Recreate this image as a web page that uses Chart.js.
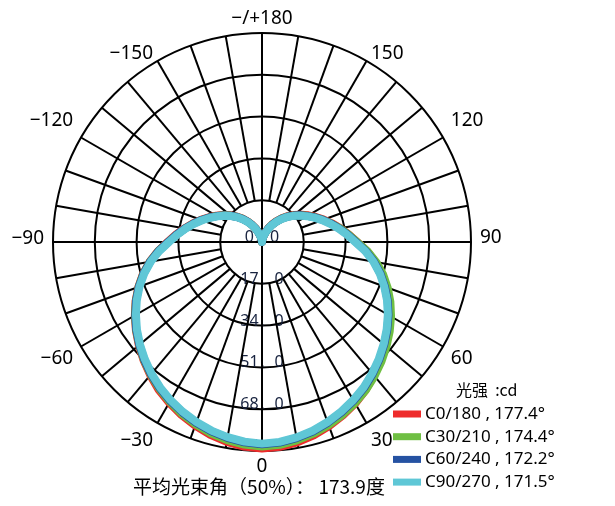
<!DOCTYPE html>
<html>
<head>
<meta charset="utf-8">
<script src="https://cdn.jsdelivr.net/npm/chart.js@4.4.0/dist/chart.umd.min.js"></script>
<style>
  html, body { margin: 0; padding: 0; background: #fff; }
  #chart { display: block; }
</style>
</head>
<body>
<canvas id="chart" width="615" height="506"></canvas>
<script>
// gamma angles (deg) of each measured point, one half of the plane
const gammas = [0, 5, 10, 15, 20, 25, 30, 35, 40, 45, 50, 55, 60, 65, 70, 75, 80, 85, 90,
  95, 100, 105, 110, 115, 120, 125, 130, 135, 140, 145, 150, 155, 160, 165, 170, 175, 180];

// intensity in cd, right half (C0 / C30 / C60 / C90)
const c0 = [84.0, 83.6, 82.7, 81.4, 79.7, 77.8, 75.8, 73.5, 70.9, 68.3, 65.6, 62.9, 60.1, 57.1, 53.8, 50.4, 46.8, 42.9, 38.7,
  35.4, 32.3, 29.4, 26.7, 24.1, 21.7, 19.4, 17.1, 14.9, 12.6, 10.4, 8.2, 6.2, 4.3, 2.8, 1.5, 0.6, 0.0];
const c30 = [83.2, 82.8, 81.9, 80.7, 79.2, 77.5, 75.6, 73.6, 71.2, 68.7, 66.1, 63.4, 60.6, 57.6, 54.4, 51.0, 47.2, 43.1, 38.7,
  35.3, 32.2, 29.1, 26.4, 23.8, 21.3, 19.0, 16.8, 14.6, 12.4, 10.2, 8.1, 6.0, 4.2, 2.6, 1.4, 0.5, 0.0];
const c60 = [82.3, 81.9, 81.0, 79.8, 78.2, 76.4, 74.5, 72.4, 70.0, 67.5, 64.9, 62.2, 59.4, 56.4, 53.2, 49.9, 46.3, 42.4, 38.2,
  34.9, 31.9, 29.0, 26.3, 23.7, 21.2, 18.9, 16.7, 14.5, 12.3, 10.1, 8.0, 6.0, 4.1, 2.6, 1.4, 0.5, 0.0];
const c90 = [82.0, 81.6, 80.7, 79.5, 77.9, 76.1, 74.2, 72.1, 69.7, 67.2, 64.6, 61.9, 59.1, 56.1, 52.9, 49.6, 46.0, 42.1, 37.9,
  34.6, 31.6, 28.7, 26.0, 23.4, 21.0, 18.7, 16.5, 14.3, 12.1, 9.9, 7.8, 5.8, 4.0, 2.5, 1.3, 0.5, 0.0];

// left half (C180 / C210 / C240 / C270)
const c180 = [84.0, 83.5, 82.5, 81.2, 79.5, 77.6, 75.5, 73.3, 70.7, 68.1, 65.4, 62.6, 59.7, 56.7, 53.5, 50.1, 46.4, 42.4, 38.4,
  35.1, 32.0, 29.1, 26.4, 23.8, 21.4, 19.1, 16.9, 14.6, 12.4, 10.2, 8.0, 6.0, 4.1, 2.6, 1.4, 0.5, 0.0];
const c210 = [83.2, 82.7, 81.8, 80.5, 78.9, 77.1, 75.0, 72.8, 70.4, 67.9, 65.2, 62.5, 59.6, 56.6, 53.4, 50.0, 46.3, 42.3, 38.1,
  34.8, 31.8, 28.9, 26.2, 23.6, 21.2, 18.9, 16.7, 14.5, 12.3, 10.1, 7.9, 5.9, 4.0, 2.5, 1.3, 0.4, 0.0];
const c240 = [82.3, 81.8, 80.9, 79.7, 78.2, 76.5, 74.6, 72.5, 70.2, 67.7, 65.1, 62.4, 59.5, 56.5, 53.3, 49.9, 46.2, 42.2, 38.1,
  34.8, 31.8, 28.9, 26.2, 23.6, 21.1, 18.8, 16.6, 14.4, 12.2, 10.0, 7.9, 5.9, 4.0, 2.5, 1.3, 0.4, 0.0];
const c270 = [82.0, 81.5, 80.6, 79.4, 77.9, 76.2, 74.3, 72.2, 69.9, 67.4, 64.8, 62.1, 59.2, 56.2, 53.0, 49.6, 45.9, 41.9, 37.8,
  34.5, 31.5, 28.6, 25.9, 23.3, 20.9, 18.6, 16.4, 14.2, 12.0, 9.8, 7.7, 5.7, 3.9, 2.4, 1.2, 0.4, 0.0];

const planes = ["C0/180", "C30/210", "C60/240", "C90/270"];
const beamAngles = [177.4, 174.4, 172.2, 171.5];
const colors = ["#ee2b2b", "#6fbf43", "#2552a2", "#5fc7d6"];

const ringTicks = [0, 17, 34, 51, 68, 85];
const angleTickLabels = ["\u2212/+180", "150", "120", "90", "60", "30", "0",
  "\u221230", "\u221260", "\u221290", "\u2212120", "\u2212150"];
const avgBeamAngle = 173.9;

// radar directions: start at top (180), clockwise through right (90), bottom (0), left (-90)
const dirs = [...gammas].reverse().concat(gammas.slice(1, 36).map((g) => -g));
const joinHalves = (right, left) => [...right].reverse().concat(left.slice(1, 36));

const halves = [[c0, c180], [c30, c210], [c60, c240], [c90, c270]];

const datasets = halves.map((h, i) => ({
  label: planes[i] + " , " + beamAngles[i].toFixed(1) + "\u00b0",
  data: joinHalves(h[0], h[1]),
  borderColor: colors[i],
  backgroundColor: colors[i],
  borderWidth: 8,
  fill: false,
  pointRadius: 0,
  tension: 0,
  borderJoinStyle: "round",
  order: 4 - i,
}));

const polarDecor = {
  id: "polarDecor",
  beforeDatasetsDraw(chart) {
    const r = chart.scales.r;
    const ctx = chart.ctx;
    const cx = r.xCenter, cy = r.yCenter;
    ctx.save();

    // ring values, down the 0 axis
    ctx.font = '16px "Noto Sans", "Noto Sans CJK SC"';
    ctx.fillStyle = "#18233f";
    ctx.textAlign = "center";
    ctx.textBaseline = "alphabetic";
    ringTicks.forEach((v) => {
      const y = cy + r.getDistanceFromCenterForValue(v);
      ctx.fillText(v.toFixed(0) + "\uff0e0", cx, y);
    });

    // spokes every 10 deg, main axes through the centre
    ctx.strokeStyle = "#000";
    ctx.lineWidth = 2;
    for (let i = 0; i < dirs.length; i += 2) {
      const inner = dirs[i] % 90 === 0 ? 0 : ringTicks[1];
      const a = r.getPointPositionForValue(i, inner);
      const b = r.getPointPositionForValue(i, ringTicks[ringTicks.length - 1]);
      ctx.beginPath();
      ctx.moveTo(a.x, a.y);
      ctx.lineTo(b.x, b.y);
      ctx.stroke();
    }

    // angle labels every 30 deg
    const nudge = [-5, 0, -12, -4, 8, 10, 7, 10, 8, -3, -12, 0];
    ctx.font = '19px "Noto Sans"';
    ctx.fillStyle = "#000";
    ctx.textBaseline = "middle";
    angleTickLabels.forEach((txt, k) => {
      const p = r.getPointPosition(k * 6, r.drawingArea + 9);
      const s = Math.sin(k * Math.PI / 6);
      ctx.textAlign = Math.abs(s) < 0.1 ? "center" : s > 0 ? "left" : "right";
      ctx.fillText(txt, p.x, p.y + nudge[k]);
    });
    ctx.restore();
  },
  afterDraw(chart) {
    const r = chart.scales.r;
    const ctx = chart.ctx;
    ctx.save();
    ctx.textBaseline = "middle";

    // legend
    ctx.fillStyle = "#000";
    ctx.textAlign = "left";
    ctx.font = '16px "Noto Sans CJK SC"';
    ctx.fillText("\u5149\u5f3a  :cd", 456, 390);
    ctx.font = '17px "Noto Sans"';
    chart.data.datasets.forEach((ds, i) => {
      const y = 414 + i * 22.7;
      ctx.fillStyle = ds.borderColor;
      ctx.fillRect(393, y - 3.5, 28, 7);
      ctx.fillStyle = "#000";
      ctx.fillText(ds.label, 425, y);
    });

    // average beam angle
    ctx.font = '19px "Noto Sans CJK SC"';
    ctx.textAlign = "center";
    ctx.fillText("\u5e73\u5747\u5149\u675f\u89d2\uff0850%\uff09\uff1a " + avgBeamAngle.toFixed(1) + "\u5ea6", r.xCenter - 3, 487);
    ctx.restore();
  },
};

new Chart(document.getElementById("chart"), {
  type: "radar",
  data: { labels: dirs, datasets },
  options: {
    responsive: false,
    animation: false,
    layout: { padding: { left: 53, right: 144, top: 33, bottom: 55 } },
    scales: {
      r: {
        min: 0,
        max: 85,
        ticks: { stepSize: 17, display: false },
        grid: { circular: true, color: "#000", lineWidth: 2 },
        angleLines: { display: false },
        pointLabels: { display: false },
      },
    },
    plugins: {
      legend: { display: false },
      tooltip: { enabled: false },
    },
  },
  plugins: [polarDecor],
});
</script>
</body>
</html>
